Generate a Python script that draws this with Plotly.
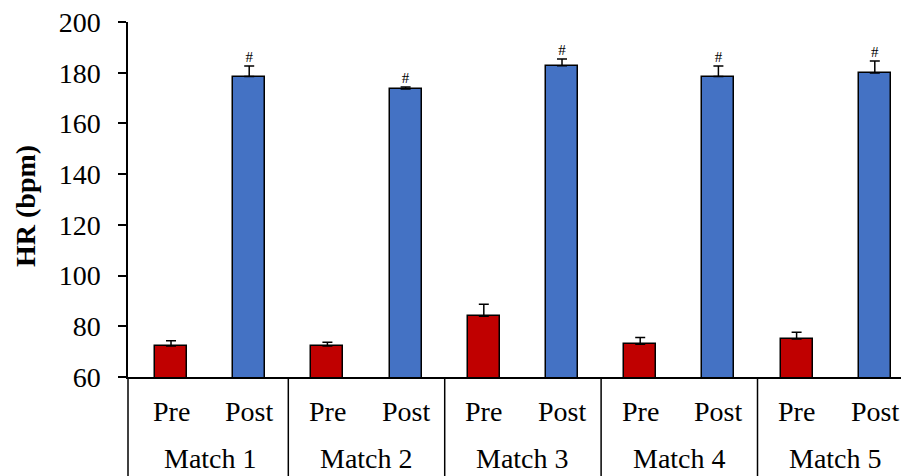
import plotly.graph_objects as go

matches = ["Match 1", "Match 2", "Match 3", "Match 4", "Match 5"]
phases = ["Pre", "Post"]
pre = [72.2, 72.2, 84.0, 72.9, 75.0]
pre_err = [2.1, 1.5, 4.7, 2.7, 2.6]
post = [178.5, 173.6, 182.7, 178.5, 179.9]
post_err = [4.1, 0.8, 2.7, 4.1, 4.7]
marker_sym = ["#", "#", "#", "#", "#"]
y_ticks = [60, 80, 100, 120, 140, 160, 180, 200]

FONT = "Liberation Serif"
RED = "#C00000"
BLUE = "#4472C4"

pre_x = [2 * i for i in range(len(matches))]
post_x = [2 * i + 1 for i in range(len(matches))]

fig = go.Figure()
fig.add_trace(go.Bar(
    x=pre_x, y=pre, width=0.41,
    marker=dict(color=RED, line=dict(color="black", width=1.5)),
    error_y=dict(type="data", symmetric=False, array=pre_err,
                 arrayminus=[0] * len(pre), color="black", thickness=1.5, width=5),
    showlegend=False,
))
fig.add_trace(go.Bar(
    x=post_x, y=post, width=0.41,
    marker=dict(color=BLUE, line=dict(color="black", width=1.5)),
    error_y=dict(type="data", symmetric=False, array=post_err,
                 arrayminus=[0] * len(post), color="black", thickness=1.5, width=5),
    showlegend=False,
))
fig.add_trace(go.Scatter(
    x=post_x, y=[p + e for p, e in zip(post, post_err)],
    mode="text", text=marker_sym, textposition="top center",
    textfont=dict(family=FONT, size=15, color="black"),
    showlegend=False, cliponaxis=False,
))

x0, x1 = -0.55, 9.335
L, T, B = 128, 22, 99
W, H = 901, 476
plot_h = H - T - B

def xp(v):
    return (v - x0) / (x1 - x0)

shapes = []
for sep in [-0.55, 1.5, 3.5, 5.5, 7.5]:
    px = max(xp(sep), 0)
    shapes.append(dict(type="line", xref="paper", yref="paper",
                       x0=px, x1=px, y0=0, y1=-B / plot_h,
                       line=dict(color="black", width=1.5)))

annotations = []
for i, m in enumerate(matches):
    for j, ph in enumerate(phases):
        annotations.append(dict(x=2 * i + j, y=(377 - 411) / plot_h, xref="x", yref="paper",
                                text=ph, showarrow=False,
                                font=dict(family=FONT, size=28, color="black"),
                                xanchor="center", yanchor="middle"))
    annotations.append(dict(x=2 * i + 0.5, y=(377 - 459) / plot_h, xref="x", yref="paper",
                            text=m, showarrow=False,
                            font=dict(family=FONT, size=28, color="black"),
                            xanchor="center", yanchor="middle"))
annotations.append(dict(x=(25 - L) / (W - L), y=(377 - 206) / plot_h, xref="paper", yref="paper",
                        text="<b>HR (bpm)</b>", textangle=-90, showarrow=False,
                        font=dict(family=FONT, size=28, color="black"),
                        xanchor="center", yanchor="middle"))

fig.update_layout(
    width=W, height=H,
    margin=dict(l=L, r=0, t=T, b=B, pad=0),
    paper_bgcolor="white", plot_bgcolor="white",
    bargap=0,
    shapes=shapes, annotations=annotations,
    xaxis=dict(range=[x0, x1], showticklabels=False, ticks="", showgrid=False,
               zeroline=False, showline=True, linecolor="black", linewidth=1.5),
    yaxis=dict(range=[60, 200], tickvals=y_ticks, ticks="outside", ticklen=8,
               tickwidth=1.5, tickcolor="black", showgrid=False, zeroline=False,
               showline=True, linecolor="black", linewidth=1.5,
               tickfont=dict(family=FONT, size=28, color="black"),
               ticklabelstandoff=12),
)

fig.write_html("out.html", config={"displayModeBar": False},
               post_script="document.body.style.margin='0';document.body.style.overflow='hidden';")
